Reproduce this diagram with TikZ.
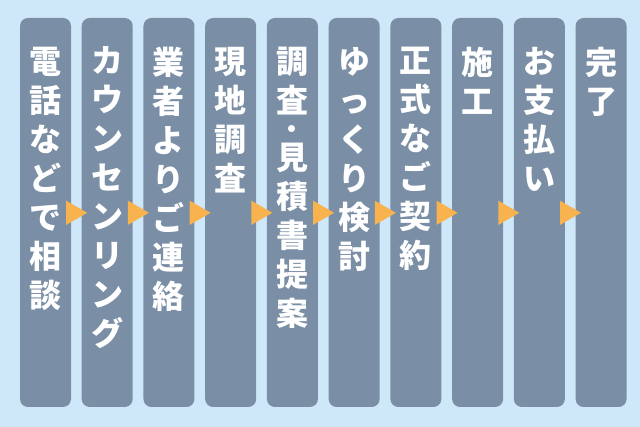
\documentclass[tikz,border=0pt]{standalone}
\usepackage{fontspec}
\newfontfamily\jpfont{Noto Sans CJK JP}
\usetikzlibrary{positioning, shapes.geometric}
\definecolor{bgblue}{HTML}{CFE8F9}
\definecolor{colgray}{HTML}{7A8EA5}
\definecolor{arrorange}{HTML}{F8B24E}

\begin{document}
\begin{tikzpicture}[
    x=1pt, y=1pt,
    node distance=10.33pt,
    stage/.style={rectangle, rounded corners=8pt, fill=colgray, minimum width=51pt, minimum height=389pt, inner sep=0pt},
    stagetext/.style={text=white, font=\jpfont\bfseries\fontsize{32pt}{39pt}\selectfont, align=center, inner sep=0pt},
    tri/.style={regular polygon, regular polygon sides=3, shape border rotate=-90, fill=arrorange, minimum size=28pt, inner sep=0pt}
]

\fill[bgblue] (0,0) rectangle (640,-427);

\node[stage] (s1) at (45.5,-212.5) {};
\node[stage, right=of s1] (s2) {};
\node[stage, right=of s2] (s3) {};
\node[stage, right=of s3] (s4) {};
\node[stage, right=of s4] (s5) {};
\node[stage, right=of s5] (s6) {};
\node[stage, right=of s6] (s7) {};
\node[stage, right=of s7] (s8) {};
\node[stage, right=of s8] (s9) {};
\node[stage, right=of s9] (s10) {};

\node[stagetext, below=29pt of s1.north] (t1) {電\\話\\な\\ど\\で\\相\\談};
\node[stagetext, below=29pt of s2.north] (t2) {カ\\ウ\\ン\\セ\\ン\\リ\\ン\\グ};
\node[stagetext, below=29pt of s3.north] (t3) {業\\者\\よ\\り\\ご\\連\\絡};
\node[stagetext, below=29pt of s4.north] (t4) {現\\地\\調\\査};
\node[stagetext, below=29pt of s5.north] (t5) {調\\査\\[-10.5pt]{\fontsize{25pt}{39pt}\selectfont\raisebox{2.6pt}{・}}\\[-10.5pt]見\\積\\書\\提\\案};
\node[stagetext, below=29pt of s6.north] (t6) {ゆ\\っ\\く\\り\\検\\討};
\node[stagetext, below=29pt of s7.north] (t7) {正\\式\\な\\ご\\契\\約};
\node[stagetext, below=29pt of s8.north] (t8) {施\\工};
\node[stagetext, below=29pt of s9.north] (t9) {お\\支\\払\\い};
\node[stagetext, below=29pt of s10.north] (t10) {完\\了};

\node[tri] (a1) at ([xshift=2pt, yshift=-195pt]s1.north east) {};
\node[tri] (a2) at ([xshift=2pt, yshift=-195pt]s2.north east) {};
\node[tri] (a3) at ([xshift=2pt, yshift=-195pt]s3.north east) {};
\node[tri] (a4) at ([xshift=2pt, yshift=-195pt]s4.north east) {};
\node[tri] (a5) at ([xshift=2pt, yshift=-195pt]s5.north east) {};
\node[tri] (a6) at ([xshift=2pt, yshift=-195pt]s6.north east) {};
\node[tri] (a7) at ([xshift=2pt, yshift=-195pt]s7.north east) {};
\node[tri] (a8) at ([xshift=2pt, yshift=-195pt]s8.north east) {};
\node[tri] (a9) at ([xshift=2pt, yshift=-195pt]s9.north east) {};

\end{tikzpicture}
\end{document}
